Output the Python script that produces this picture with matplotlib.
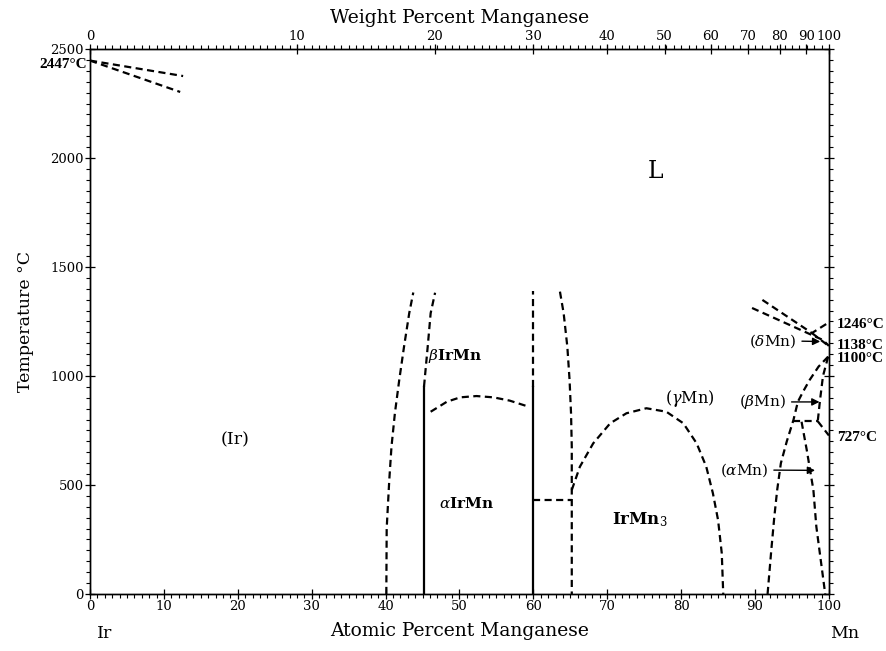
import numpy as np
import matplotlib.pyplot as plt
from matplotlib.ticker import MultipleLocator, NullFormatter

plt.rcParams['font.family'] = ['DejaVu Serif']
plt.rcParams['mathtext.fontset'] = 'dejavuserif'

# atomic masses for the weight-percent axis
M_MN = 54.938
M_IR = 192.217

# boundaries: (at.% Mn, temperature °C)
ir_liq_x = [0, 12.6]
ir_liq_y = [2447, 2376]
ir_sol_x = [0, 12.2]
ir_sol_y = [2447, 2303]

ir_solvus_x = [40.1, 40.15, 40.5, 40.8, 41.26, 41.85, 42.5, 43.2, 43.75]
ir_solvus_y = [0, 301, 523, 676, 829, 982, 1135, 1288, 1383]

beta_left_x = [45.2, 45.7, 46.1, 46.7]
beta_left_y = [951, 1134, 1288, 1382]

beta_dome_x = [46.1, 48.3, 50.1, 52.3, 54.6, 56.8, 59.1]
beta_dome_y = [836, 882, 902, 908, 902, 887, 862]

beta_right_x = [63.6, 64.1, 64.6, 64.9, 65.1, 65.2, 65.2, 65.2]
beta_right_y = [1387, 1288, 1134, 982, 829, 676, 477, 0]

alpha_eut_x = [60, 65.2]
alpha_eut_y = [431, 431]

irmn3_x = [65.2, 66.3, 68.1, 70.4, 72.6, 75.3, 78.0, 80.3, 82.1, 83.4,
           84.3, 85.0, 85.5, 85.7]
irmn3_y = [477, 584, 691, 783, 829, 852, 836, 783, 691, 584,
           462, 339, 187, 0]

solid_45_x = [45.2, 45.2]
solid_45_y = [0, 951]
solid_60_x = [60, 60]
solid_60_y = [0, 951]
dash_60_x = [60, 60]
dash_60_y = [951, 1390]

mn_liq_x = [91.0, 97.7, 100]
mn_liq_y = [1349, 1197, 1246]
mn_sol_x = [89.6, 99.2, 100]
mn_sol_y = [1312, 1165, 1138]
delta_x = [97.7, 99.8]
delta_y = [1197, 1142]

gamma_x = [91.7, 92.2, 92.6, 93.0, 93.5, 94.3, 95.2, 95.8, 96.5, 97.4,
           98.6, 99.9]
gamma_y = [0, 200, 350, 477, 600, 700, 798, 882, 928, 982,
           1043, 1089]
beta_mn_x = [99.9, 99.2, 98.8, 98.5]
beta_mn_y = [1089, 1000, 890, 795]
beta_mn_h_x = [95.1, 98.5]
beta_mn_h_y = [792, 792]
b727_x = [98.5, 100]
b727_y = [792, 727]
alpha_mn_x = [96.3, 97.0, 97.9, 98.3, 99.5]
alpha_mn_y = [790, 661, 477, 309, 0]

wt_ticks = [0, 10, 20, 30, 40, 50, 60, 70, 80, 90, 100]


def wt_to_at(w):
    w = np.asarray(w, dtype=float)
    a = w / M_MN
    b = (100 - w) / M_IR
    return 100 * a / (a + b)


fig = plt.figure(figsize=(8.87, 6.51), dpi=100)
ax = fig.add_axes([0.1015, 0.0876, 0.833, 0.8371])
ax.set_xlim(0, 100)
ax.set_ylim(0, 2500)

dash = dict(color='black', lw=1.6, ls=(0, (3.2, 2)))
solid = dict(color='black', lw=1.6)

for xs, ys in [(ir_liq_x, ir_liq_y), (ir_sol_x, ir_sol_y),
               (ir_solvus_x, ir_solvus_y), (beta_left_x, beta_left_y),
               (beta_dome_x, beta_dome_y), (beta_right_x, beta_right_y),
               (alpha_eut_x, alpha_eut_y), (irmn3_x, irmn3_y),
               (dash_60_x, dash_60_y), (mn_liq_x, mn_liq_y),
               (mn_sol_x, mn_sol_y), (delta_x, delta_y),
               (gamma_x, gamma_y), (beta_mn_x, beta_mn_y),
               (beta_mn_h_x, beta_mn_h_y), (b727_x, b727_y),
               (alpha_mn_x, alpha_mn_y)]:
    ax.plot(xs, ys, **dash)
ax.plot(solid_45_x, solid_45_y, **solid)
ax.plot(solid_60_x, solid_60_y, **solid)

# phase labels
ax.text(76.6, 1937, 'L', fontsize=17, ha='center', va='center')
ax.text(19.6, 706, '(Ir)', fontsize=12.5, ha='center', va='center')
ax.text(49.4, 1092, r'$\beta$IrMn', fontsize=11, fontweight='bold',
        ha='center', va='center')
ax.text(51.0, 417, r'$\alpha$IrMn', fontsize=11, fontweight='bold',
        ha='center', va='center')
ax.text(74.4, 339, r'IrMn$_3$', fontsize=12, fontweight='bold',
        ha='center', va='center')
ax.text(81.2, 899, r'($\gamma$Mn)', fontsize=11.5, ha='center', va='center')

arrow = dict(arrowstyle='-|>', color='black', lw=1, mutation_scale=11)
ax.annotate(r'($\delta$Mn)', xy=(99.2, 1158), xytext=(95.6, 1162),
            ha='right', va='center', fontsize=11, arrowprops=arrow)
ax.annotate(r'($\beta$Mn)', xy=(99.1, 881), xytext=(94.2, 881),
            ha='right', va='center', fontsize=11, arrowprops=arrow)
ax.annotate(r'($\alpha$Mn)', xy=(98.5, 567), xytext=(91.8, 569),
            ha='right', va='center', fontsize=11, arrowprops=arrow)

# temperature callouts
call = dict(fontsize=11, fontweight='bold', family='Liberation Serif',
            va='center', clip_on=False)
for t, y in [('1246°C', 1236), ('1138°C', 1140), ('1100°C', 1080),
             ('727°C', 718)]:
    ax.text(101.1, y, t, ha='left', **call)
ax.text(-0.4, 2430, '2447°C', ha='right', **call)

# bottom / left axes
ax.xaxis.set_major_locator(MultipleLocator(10))
ax.xaxis.set_minor_locator(MultipleLocator(1))
ax.yaxis.set_major_locator(MultipleLocator(500))
ax.yaxis.set_minor_locator(MultipleLocator(50))
ax.tick_params(which='major', direction='inout', length=7, width=0.9,
               labelsize=9.5, right=True)
ax.tick_params(which='minor', direction='out', length=3, width=0.8,
               right=True)
ax.tick_params(axis='x', pad=1)
ax.tick_params(axis='y', pad=1)
ax.set_xlabel('Atomic Percent Manganese', fontsize=13.5, labelpad=6)
ax.set_ylabel('Temperature °C', fontsize=12.5, labelpad=12)

# top weight-percent axis
top = ax.twiny()
top.set_xlim(ax.get_xlim())
top.set_xticks(wt_to_at(wt_ticks))
top.set_xticklabels([str(w) for w in wt_ticks])
top.xaxis.set_minor_locator(MultipleLocator(1))
top.xaxis.set_minor_formatter(NullFormatter())
top.tick_params(which='major', direction='inout', length=7, width=0.9,
                labelsize=9.5, pad=1)
top.tick_params(which='minor', direction='out', length=3, width=0.8)
top.set_xlabel('Weight Percent Manganese', fontsize=13.5, labelpad=5)

for sp in list(ax.spines.values()) + list(top.spines.values()):
    sp.set_linewidth(1.0)

fig.text(97 / 887, 1 - 633 / 651, 'Ir', fontsize=12.5, ha='left', va='center')
fig.text(845 / 887, 1 - 633 / 651, 'Mn', fontsize=12.5, ha='center', va='center')

fig.savefig('out.png', dpi=100)
